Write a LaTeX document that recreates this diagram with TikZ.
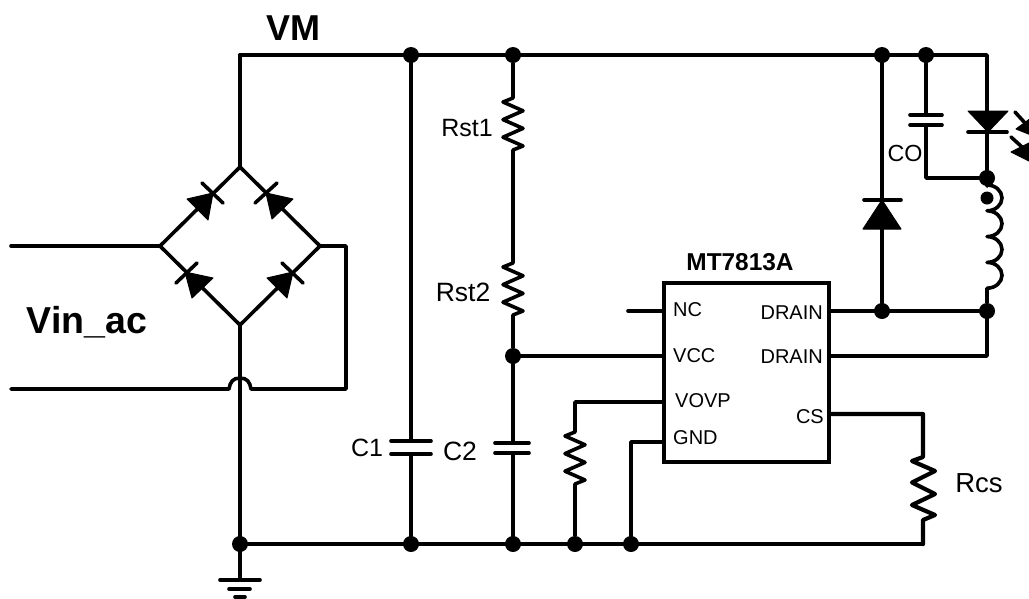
\documentclass[tikz,border=0pt]{standalone}
\usepackage{fontspec}
\setmainfont{Liberation Sans}
\newcommand{\zig}{-- ++(-10,4) -- ++(20,8.8) -- ++(-20,8.8) -- ++(20,8.8) -- ++(-20,8.8) -- ++(20,8.8) -- ++(-10,4)}
\newcommand{\zigw}{-- ++(-11,4) -- ++(23,10) -- ++(-23,11.5) -- ++(23,11.5) -- ++(-23,11) -- ++(23,10) -- ++(-12,5)}
\newcommand{\fs}[1]{\fontsize{#1}{#1}\selectfont}
\begin{document}
\begin{tikzpicture}[x=1pt,y=-1pt,
  wire/.style={line width=3.6pt,line cap=round,line join=round},
  dot/.style={circle,fill=black,inner sep=0pt,minimum size=16pt},
  pt/.style={inner sep=0pt,outer sep=0pt,minimum size=0pt},
  lbl/.style={inner sep=0pt,font=\fs{25}},
  small/.style={inner sep=0pt,font=\fs{20}},
  big/.style={inner sep=0pt,font=\fs{36}\bfseries},
  tri/.style={fill=black,draw=black,line width=1pt,line join=round}]
\useasboundingbox (0,0) rectangle (1029,598);
% junctions
\node[dot] (ja) at (411,55) {};
\node[dot] (jb) at (513,55) {};
\node[dot] (jc) at (882,55) {};
\node[dot] (jd) at (926,55) {};
\node[dot] (je) at (513,356) {};
\node[dot] (jf) at (882,311) {};
\node[dot] (jg) at (987,311) {};
\node[dot] (jh) at (987,178) {};
\node[dot] (ji) at (240,544) {};
\node[dot] (jj) at (411,544) {};
\node[dot] (jk) at (513,544) {};
\node[dot] (jl) at (575,544) {};
\node[dot] (jm) at (631,544) {};
\node[dot,minimum size=13pt] (jn) at (987,198) {};
% bridge corners
\node[pt] (bt) at (240,167) {};
\node[pt] (bl) at (160,246) {};
\node[pt] (br) at (320,246) {};
\node[pt] (bb) at (240,325) {};
\coordinate (tl) at (240,55);
\coordinate (tr) at (987,55);
\coordinate (in1) at (11,246);
\coordinate (in2) at (11,389);
\coordinate (gnd) at (240,580);
% IC
\node[draw,line width=4pt,minimum width=165pt,minimum height=179pt,inner sep=0pt] (ic) at (746.5,372.5) {};
\node[inner sep=0pt,font=\fs{24.4}\bfseries] (ictitle) at (740,262) {MT7813A};
\node[small,anchor=west] (nc) at (673,310) {NC};
\node[small,anchor=west] (vcc) at (673,356) {VCC};
\node[small,anchor=west] (vovp) at (675,401) {VOVP};
\node[small,anchor=west] (gndl) at (673,438) {GND};
\node[small,anchor=east] (d1) at (823,313) {DRAIN};
\node[small,anchor=east] (d2) at (823,357) {DRAIN};
\node[small,anchor=east] (cs) at (824,417) {CS};
% labels
\node[big] (vm) at (293.5,28) {VM};
\node[big,font=\fs{37.5}\bfseries] (vin) at (87,322) {Vin\_ac};
\node[lbl] (rst1) at (467,128) {Rst1};
\node[lbl,font=\fs{26.5}] (rst2) at (463,292) {Rst2};
\node[lbl] (c1) at (367,448) {C1};
\node[lbl,font=\fs{26.5}] (c2) at (460,451) {C2};
\node[lbl,font=\fs{27.5}] (rcs) at (979,483) {Rcs};
\node[lbl,font=\fs{23.3}] (co) at (905,153) {CO};
% rails
\draw[wire] (tl) -- (tr) -- (987,111);
\draw[wire] (tl) -- (bt);
\draw[wire] (bt) -- (bl);
\draw[wire] (bl) -- (bb);
\draw[wire] (bb) -- (br);
\draw[wire] (br) -- (bt);
\draw[wire] (in1) -- (bl);
\draw[wire] (br) -- (346,246) -- (346,389) -- (251,389) .. controls (250,382) and (247,378) .. (240,378) .. controls (233,378) and (230,382) .. (229,389) -- (in2);
\draw[wire] (bb) -- (gnd);
\draw[wire] (ji) -- (923,544);
% ground
\draw[wire] (220,580) -- (260,580);
\draw[wire] (229,589) -- (250,589);
\draw[wire] (235,597) -- (245,597);
% bridge diodes
\fill[tri] (213,193) -- (187,199) -- (208,220) -- cycle;
\draw[wire] (202,183) -- (223,203);
\fill[tri] (266,193) -- (293,199) -- (272,219) -- cycle;
\draw[wire] (255,203) -- (277,183);
\fill[tri] (185,272) -- (213,278) -- (192,298) -- cycle;
\draw[wire] (176,283) -- (197,263);
\fill[tri] (293,272) -- (267,278) -- (287,298) -- cycle;
\draw[wire] (282,263) -- (303,283);
% C1, C2
\draw[wire] (ja) -- (411,441); \draw[wire] (411,454) -- (jj);
\draw[wire] (391,441) -- (431,441); \draw[wire] (391,454) -- (431,454);
\draw[wire] (jk) -- (513,453); \draw[wire] (513,443) -- (je);
\draw[wire] (495,443) -- (529,443); \draw[wire] (495,453) -- (529,453);
% resistors
\draw[wire] (jb) -- (513,98) \zig -- (513,263) \zig -- (je);
\draw[wire] (je) -- (ic.west |- je);
\draw[wire] (628,311) -- (ic.west |- 0,311);
\draw[wire] (ic.west |- 0,402) -- (575,402) -- (575,432) \zig -- (jl);
\draw[wire] (ic.west |- 0,442) -- (631,442) -- (jm);
\draw[wire,line width=4.2pt] (ic.east |- 0,414) -- (923,414) -- (923,457) \zigw -- (923,544);
\draw[wire] (ic.east |- 0,311) -- (jg);
\draw[wire] (ic.east |- 0,356) -- (987,356) -- (jg);
% freewheel diode
\draw[wire] (jc) -- (jf);
\fill[tri] (882,200) -- (863,229) -- (901,229) -- cycle;
\draw[wire] (864,200) -- (901,200);
% CO
\draw[wire] (jd) -- (926,115);
\draw[wire] (910,115) -- (942,115);
\draw[wire] (910,125) -- (942,125);
\draw[wire] (926,125) -- (926,178) -- (jh);
% LED
\fill[tri] (968,111) -- (1008,111) -- (988,132) -- cycle;
\draw[wire] (968,132) -- (1007,132);
\draw[wire] (987,132) -- (jh);
\draw[wire] (1015,112) -- (1025,123);
\fill[tri] (1031,118) -- (1016,129) -- (1031,135) -- cycle;
\draw[wire] (1011,137) -- (1022,147);
\fill[tri] (1031,142) -- (1011,152) -- (1031,162) -- cycle;
% inductor
\draw[wire] (jh) -- (987,185) arc[start angle=90,end angle=-90,x radius=15pt,y radius=12.9pt] arc[start angle=90,end angle=-90,x radius=15pt,y radius=12.9pt] arc[start angle=90,end angle=-90,x radius=15pt,y radius=12.9pt] arc[start angle=90,end angle=-90,x radius=15pt,y radius=12.9pt] -- (jg);
\end{tikzpicture}
\end{document}
